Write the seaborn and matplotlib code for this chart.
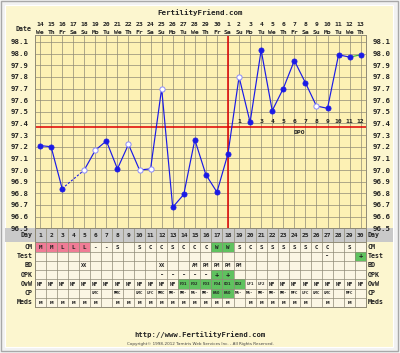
import numpy as np
import pandas as pd
import seaborn as sns
from matplotlib import pyplot as plt
from matplotlib.patches import Rectangle
import matplotlib.transforms as mtransforms

# chart data
days = list(range(1, 31))
dates = [14, 15, 16, 17, 18, 19, 20, 21, 22, 23, 24, 25, 26, 27, 28, 29, 30,
         1, 2, 3, 4, 5, 6, 7, 8, 9, 10, 11, 12, 13]
weekdays = ["We", "Th", "Fr", "Sa", "Su", "Mo", "Tu", "We", "Th", "Fr", "Sa", "Su", "Mo", "Tu", "We",
            "Th", "Fr", "Sa", "Su", "Mo", "Tu", "We", "Th", "Fr", "Sa", "Su", "Mo", "Tu", "We", "Th"]
temps = [97.21, 97.20, 96.84, np.nan, 97.00, 97.17, 97.25, 97.01, 97.22, 97.00,
         97.01, 97.70, 96.68, 96.79, 97.26, 96.96, 96.81, 97.14, 97.80, 97.41,
         98.03, 97.51, 97.70, 97.94, 97.75, 97.55, 97.53, 97.99, 97.97, 97.99]
open_days = [5, 6, 9, 10, 11, 12, 19, 26]
coverline = 97.37
ov_day = 18
dpo_days = list(range(19, 31))
dpo_nums = list(range(1, 13))
temp_ticks = [round(96.5 + 0.1 * i, 1) for i in range(17)]

cm = ["M", "M", "L", "L", "L", "-", "-", "S", "", "S", "C", "C", "S", "C", "C",
      "C", "W", "W", "S", "C", "S", "S", "S", "S", "S", "C", "C", "", "S", ""]
test = [""] * 26 + ["-", "", "", "+"]
bd = ["", "", "", "", "XX", "", "", "", "", "", "", "XX", "", "", "AM",
      "PM", "PM", "PM", "PM", "", "", "", "", "", "", "", "", "", "", ""]
opk = [""] * 11 + ["-", "-", "-", "-", "-", "+", "+"] + [""] * 12
ovw = ["NF"] * 13 + ["FO1", "FO2", "FO3", "FO4", "OO1", "OO2", "LF1", "LF2"] + ["NF"] * 9
cp = ["", "", "", "", "", "LMC", "", "MMC", "", "LMC", "LFC", "MMC", "MM-", "MM-", "MS-",
      "MM-", "HSO", "HSO", "MS-", "MS-", "MM-", "MM-", "MM-", "MFC", "LFC", "LMC", "LMC", "", "MFC", ""]
meds = ["м"] * 6 + [""] + ["м"] * 11 + [""] + ["м"] * 6 + ["", "м", "", "м", ""]

PINK = "#f07c96"
GREEN = "#5fc25f"
highlights = {
    "CM": {1: PINK, 2: PINK, 3: PINK, 4: PINK, 5: PINK, 17: GREEN, 18: GREEN},
    "Test": {30: GREEN},
    "OPK": {17: GREEN, 18: GREEN},
    "OvW": {14: GREEN, 15: GREEN, 16: GREEN, 17: GREEN, 18: GREEN, 19: GREEN},
    "CP": {17: GREEN, 18: GREEN},
}

PANEL = "#fcf6cf"
CHART = "#fdf1b4"
CREAM = "#fbf6e4"
GRID = "#8f8a76"
BLUE = "#1a1ae6"
RED = "#e00000"
TXT = "#222222"
MONO = "DejaVu Sans Mono"

W, H = 400, 353
fig = plt.figure(figsize=(4, 3.53), dpi=100)
fig.patch.set_facecolor("#f2f2f2")

# background panel in pixel coordinates
bg = fig.add_axes([0, 0, 1, 1])
bg.set_xlim(0, W)
bg.set_ylim(H, 0)
bg.axis("off")
bg.add_patch(Rectangle((0.5, 0.5), 397, 350, fc="none", ec="#a8a8a8", lw=1))
bg.add_patch(Rectangle((5, 5), 388, 342, fc=PANEL, ec="#ffffff", lw=0.8))

x0, x1 = 34.5, 366.2
y0, y1 = 35, 228.2
ty1 = 307
L = x0 / W
Wd = (x1 - x0) / W

ax = fig.add_axes([L, 1 - y1 / H, Wd, (y1 - y0) / H])
ax.set_facecolor(CHART)
ax.set_xlim(0.5, 30.5)
ax.set_ylim(96.5, 98.16)
ax.set_xticks(days)
ax.set_yticks(temp_ticks)
ax.set_yticklabels([f"{t:.1f}" for t in temp_ticks])
ax.grid(True, color=GRID, lw=0.5)
ax.set_axisbelow(True)
ax.tick_params(length=0, labelbottom=False, labelleft=True, labelright=True,
               labelsize=5.3, labelcolor=TXT)
ax.tick_params(axis="y", left=False, right=False, pad=4.5)
for lab in ax.get_yticklabels():
    lab.set_family(MONO)
    lab.set_fontweight("bold")
for sp in ax.spines.values():
    sp.set_color(GRID)
    sp.set_linewidth(0.7)

ax.axhline(coverline, color=RED, lw=1.1, zorder=2)
ax.axvline(ov_day, color=RED, lw=1.1, zorder=2)

for d, n in zip(dpo_days, dpo_nums):
    ax.text(d, 97.415, str(n), ha="center", va="center", fontsize=4.6,
            family=MONO, fontweight="bold", color=TXT, zorder=3)
ax.text(24.5, 97.325, "DPO", ha="center", va="center", fontsize=4.6,
        family=MONO, fontweight="bold", color=TXT, zorder=3)

df = pd.DataFrame({"day": days, "temp": temps})
first = df[df.day <= 3]
gap = df[df.day.isin([3, 5])]
main = df[(df.day >= 5) & (df.day <= 29)]
last = df[df.day >= 29]
sns.lineplot(data=first, x="day", y="temp", ax=ax, color=BLUE, lw=0.85, estimator=None, zorder=4)
sns.lineplot(data=gap, x="day", y="temp", ax=ax, color=BLUE, lw=0.8, estimator=None,
             linestyle=(0, (2, 1.5)), zorder=4)
sns.lineplot(data=main, x="day", y="temp", ax=ax, color=BLUE, lw=0.85, estimator=None, zorder=4)
sns.lineplot(data=last, x="day", y="temp", ax=ax, color="#3cb83c", lw=0.85, estimator=None, zorder=4)

pts = df.dropna()
filled = pts[~pts.day.isin(open_days)]
hollow = pts[pts.day.isin(open_days)]
sns.scatterplot(data=filled, x="day", y="temp", ax=ax, s=14, color=BLUE,
                edgecolor=BLUE, linewidth=0.5, zorder=5)
sns.scatterplot(data=hollow, x="day", y="temp", ax=ax, s=14, facecolor="#ffffff",
                edgecolor="#8a8aff", linewidth=0.7, zorder=5)
ax.set_xlabel("")
ax.set_ylabel("")

# header dates
trans = mtransforms.blended_transform_factory(ax.transData, fig.transFigure)
for d, dt, wd in zip(days, dates, weekdays):
    ax.text(d, 1 - 25 / H, str(dt), transform=trans, ha="center", va="center",
            fontsize=4.6, family=MONO, fontweight="bold", color=TXT, clip_on=False)
    ax.text(d, 1 - 32.5 / H, wd, transform=trans, ha="center", va="center",
            fontsize=4.6, family=MONO, fontweight="bold", color=TXT, clip_on=False)
bg.text(31, 29, "Date", ha="right", va="center", fontsize=4.8, family=MONO,
        fontweight="bold", color=TXT)
bg.text(200, 12.5, "FertilityFriend.com", ha="center", va="center", fontsize=5.4,
        family=MONO, fontweight="bold", color=TXT)

# table under the chart
day_h = 14.1
row_h = (ty1 - y1 - day_h) / 7
bg.add_patch(Rectangle((5, y1), 388, day_h, fc="#c9c9c9", ec="none"))
tb = fig.add_axes([L, 1 - ty1 / H, Wd, (ty1 - y1) / H])
tb.set_facecolor(CREAM)
tb.set_xlim(0.5, 30.5)
tb.set_ylim(ty1 - y1, 0)
tb.set_xticks([])
tb.set_yticks([])
for sp in tb.spines.values():
    sp.set_color(GRID)
    sp.set_linewidth(0.7)
tb.add_patch(Rectangle((0.5, 0), 30, day_h, fc="#c9c9c9", ec="none"))
for d in days:
    tb.text(d, day_h / 2 + 0.5, str(d), ha="center", va="center", fontsize=4.5,
            family=MONO, fontweight="bold", color=TXT)

rows = [("CM", cm), ("Test", test), ("BD", bd), ("OPK", opk),
        ("OvW", ovw), ("CP", cp), ("Meds", meds)]
sizes = {"CM": 4.2, "Test": 5, "BD": 3.8, "OPK": 5, "OvW": 3.8, "CP": 3.0, "Meds": 4.2}
for i, (name, vals) in enumerate(rows):
    top = day_h + i * row_h
    for d, v in zip(days, vals):
        col = highlights.get(name, {}).get(d)
        if col:
            tb.add_patch(Rectangle((d - 0.5, top), 1, row_h, fc=col, ec="none"))
        if v:
            fs = sizes[name]
            if name == "OvW" and v != "NF":
                fs = 3.0
            tb.text(d, top + row_h / 2 + 0.3, v, ha="center", va="center", fontsize=fs,
                    family=MONO, fontweight="bold", color=TXT)
    tb.axhline(top, color=GRID, lw=0.5)
    yc = y1 + top + row_h / 2
    bg.text(32.5, yc, name, ha="right", va="center", fontsize=4.8, family=MONO,
            fontweight="bold", color=TXT)
    bg.text(368, yc, name, ha="left", va="center", fontsize=4.8, family=MONO,
            fontweight="bold", color=TXT)
for d in range(0, 31):
    tb.axvline(d + 0.5, color=GRID, lw=0.5)
tb.axhline(day_h, color=GRID, lw=0.6)
bg.text(32.5, y1 + day_h / 2, "Day", ha="right", va="center", fontsize=4.8, family=MONO,
        fontweight="bold", color=TXT)
bg.text(368, y1 + day_h / 2, "Day", ha="left", va="center", fontsize=4.8, family=MONO,
        fontweight="bold", color=TXT)

bg.text(200, 335, "http://www.FertilityFriend.com", ha="center", va="center",
        fontsize=5.2, family=MONO, fontweight="bold", color=TXT)
bg.text(200, 343.5, "Copyright\u00a9 1998-2012 Tamtris Web Services Inc. - All Rights Reserved.",
        ha="center", va="center", fontsize=3.0, color="#444444")

fig.savefig("out.png", dpi=100, facecolor=fig.get_facecolor())
